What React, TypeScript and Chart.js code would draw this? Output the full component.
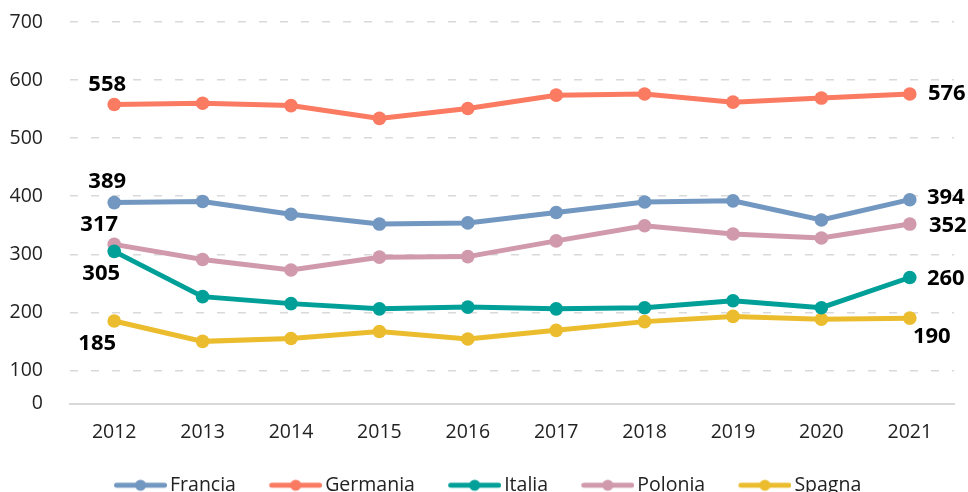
import React, { useEffect, useRef } from "react";
import { Chart, registerables } from "chart.js";

Chart.register(...registerables);

const years = ["2012", "2013", "2014", "2015", "2016", "2017", "2018", "2019", "2020", "2021"];
const francia = [389, 391, 369, 352, 354, 372, 390, 392, 359, 394];
const germania = [558, 560, 556, 534, 551, 574, 576, 562, 569, 576];
const italia = [305, 227, 215, 206, 209, 206, 208, 220, 208, 260];
const polonia = [317, 291, 273, 295, 296, 323, 349, 335, 328, 352];
const spagna = [185, 150, 155, 167, 154, 169, 184, 193, 188, 190];
const seriesNames = ["Francia", "Germania", "Italia", "Polonia", "Spagna"];
const yTickValues = [100, 200, 300, 400, 500, 600, 700];
const yAxisMin = 43;
const yAxisMax = 700;

const colors = ["#7297C0", "#FA7B62", "#00A099", "#D09AAC", "#EBBD2E"];
// [dx, dy] offsets of first / last value labels relative to the point
const firstOffsets = [[-7, -21], [-7, -20], [-13, 22], [-15, -20], [-17, 23]];
const lastOffsets = [[36, -2], [37, 0], [36, 1], [38, 2], [22, 19]];

// legend swatch: transparent left margin, then a 53px line with a dot
function legendSwatch(color: string) {
  const c = document.createElement("canvas");
  const m = 18;
  c.width = 71;
  c.height = 14;
  const ctx = c.getContext("2d")!;
  ctx.strokeStyle = color;
  ctx.lineWidth = 5;
  ctx.lineCap = "round";
  ctx.beginPath();
  ctx.moveTo(m + 2.5, 7);
  ctx.lineTo(71 - 2.5, 7);
  ctx.stroke();
  ctx.fillStyle = color;
  ctx.beginPath();
  ctx.arc(m + 26.5, 7, 5.5, 0, Math.PI * 2);
  ctx.fill();
  return c;
}

const valueLabels = {
  id: "valueLabels",
  afterDatasetsDraw(chart: any) {
    const ctx = chart.ctx;
    ctx.save();
    ctx.font = "bold 22px 'Open Sans', sans-serif";
    ctx.fillStyle = "#000";
    ctx.textAlign = "center";
    ctx.textBaseline = "middle";
    chart.data.datasets.forEach((ds: any, i: number) => {
      const meta = chart.getDatasetMeta(i);
      const n = meta.data.length;
      const f = meta.data[0];
      const l = meta.data[n - 1];
      ctx.fillText(String(ds.data[0]), f.x + firstOffsets[i][0], f.y + firstOffsets[i][1]);
      ctx.fillText(String(ds.data[n - 1]), l.x + lastOffsets[i][0], l.y + lastOffsets[i][1]);
    });
    ctx.restore();
  },
};

export default function App() {
  const ref = useRef<HTMLCanvasElement>(null);
  useEffect(() => {
    Chart.defaults.font.family = "'Open Sans', sans-serif";
    const all = [francia, germania, italia, polonia, spagna];
    const chart = new Chart(ref.current!, {
      type: "line",
      data: {
        labels: years,
        datasets: all.map((d, i) => ({
          label: seriesNames[i],
          data: d,
          borderColor: colors[i],
          backgroundColor: colors[i],
          pointBackgroundColor: colors[i],
          pointBorderWidth: 0,
          pointRadius: 6.8,
          borderWidth: 5,
          tension: 0,
        })),
      },
      options: {
        animation: false,
        responsive: false,
        layout: { padding: { left: 10, right: 14, top: 22, bottom: 0 } },
        plugins: {
          tooltip: { enabled: false },
          legend: {
            position: "bottom",
            labels: {
              usePointStyle: true,
              pointStyleWidth: 57.5,
              padding: 22,
              color: "#222",
              font: { size: 19.5 },
              generateLabels: (ch: any) =>
                ch.data.datasets.map((ds: any, i: number) => ({
                  text: ds.label,
                  pointStyle: legendSwatch(colors[i]),
                  fillStyle: colors[i],
                  strokeStyle: colors[i],
                  lineWidth: 0,
                  hidden: false,
                  datasetIndex: i,
                  fontColor: "#222",
                })),
            },
          },
        },
        scales: {
          x: {
            offset: true,
            grid: { display: false, drawTicks: false },
            border: { display: true, color: "#d9d9d9", width: 2 },
            ticks: { color: "#222", font: { size: 19.5 }, padding: 17 },
            afterFit: (scale: any) => {
              scale.height = 50;
              scale.paddingLeft = 0;
              scale.paddingRight = 0;
            },
          },
          y: {
            min: yAxisMin,
            max: yAxisMax,
            afterBuildTicks: (scale: any) => {
              scale.ticks = [yAxisMin, ...yTickValues].map((v) => ({ value: v }));
            },
            afterFit: (scale: any) => {
              scale.width = 60;
              scale.paddingTop = 0;
              scale.paddingBottom = 0;
            },
            grid: {
              drawTicks: false,
              color: (ctx: any) => (ctx.tick && ctx.tick.value === yAxisMin ? "rgba(0,0,0,0)" : "#d9d9d9"),
              lineWidth: 1.5,
            },
            border: { display: false, dash: [8, 13] },
            ticks: {
              color: "#222",
              font: { size: 19.5 },
              padding: 27,
              callback: (v: any) => (v === yAxisMin ? "0" : String(v)),
            },
          },
        },
      },
      plugins: [valueLabels],
    });
    return () => chart.destroy();
  }, []);
  return (
    <div style={{ position: "fixed", left: 0, top: 0, width: 968, height: 492, overflow: "hidden", background: "#fff" }}>
      <canvas ref={ref} width={968} height={505} style={{ display: "block" }} />
    </div>
  );
}
